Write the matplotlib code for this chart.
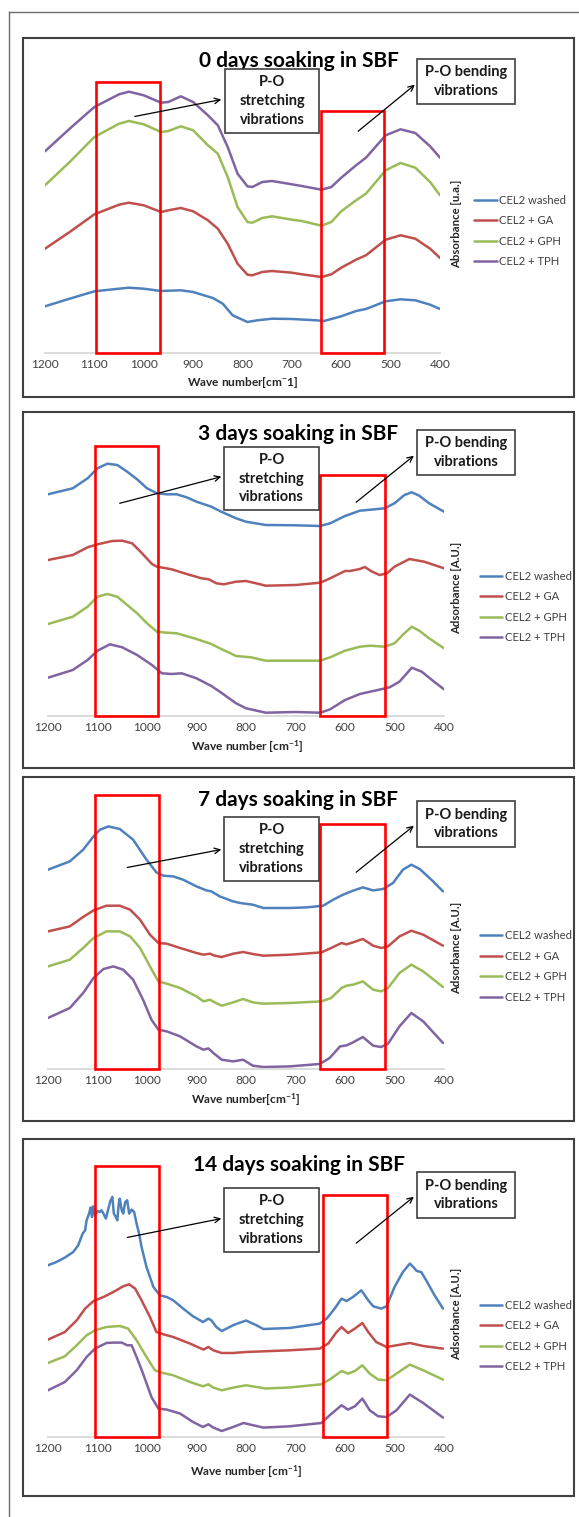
import matplotlib
matplotlib.use("Agg")
import matplotlib.pyplot as plt
from matplotlib.patches import Rectangle, FancyArrowPatch
from matplotlib.lines import Line2D

plt.rcParams['font.family'] = ['Lato', 'DejaVu Sans']
plt.rcParams['mathtext.fontset'] = 'custom'
plt.rcParams['mathtext.rm'] = 'Lato'
plt.rcParams['mathtext.bf'] = 'Lato:bold'
plt.rcParams['mathtext.default'] = 'bf'

# ---------------- data (wavenumber cm-1, absorbance a.u.) ----------------
series_labels = ["CEL2 washed", "CEL2 + GA", "CEL2 + GPH", "CEL2 + TPH"]
series_colors = ["#4F81BD", "#C0504D", "#9BBB59", "#8064A2"]
tick_values = [1200, 1100, 1000, 900, 800, 700, 600, 500, 400]

# 0 days
d0_blue_wn = [1200, 1150, 1100, 1050, 1030, 1000, 965, 950, 925, 900, 860, 840, 820, 790, 770, 740, 700, 650, 635, 600, 570, 550, 510, 480, 450, 420, 400]
d0_blue = [46.7, 54.3, 61.7, 64.3, 65.3, 64.3, 62.0, 62.3, 62.7, 61.0, 55.0, 49.3, 37.7, 31.0, 32.7, 34.3, 34.0, 32.7, 32.0, 36.7, 42.0, 44.0, 51.7, 53.7, 52.7, 48.3, 44.0]
d0_wn = [1200, 1150, 1100, 1050, 1030, 1000, 965, 950, 925, 900, 870, 850, 830, 810, 790, 780, 760, 740, 700, 680, 640, 620, 600, 570, 550, 510, 480, 450, 420, 400]
d0_red = [104.3, 121.0, 138.7, 148.3, 150.3, 147.7, 141.0, 142.7, 145.0, 141.7, 132.7, 124.3, 109.3, 89.3, 78.3, 77.7, 81.0, 82.0, 80.3, 78.7, 76.0, 78.7, 85.3, 93.3, 97.7, 113.3, 117.7, 114.3, 104.3, 95.0]
d0_green = [167.7, 191.0, 216.0, 229.3, 232.0, 228.7, 221.0, 222.0, 226.7, 222.7, 207.7, 199.3, 176.0, 146.0, 131.0, 130.3, 135.0, 136.7, 133.3, 132.0, 127.3, 131.0, 141.7, 152.7, 159.3, 182.7, 190.0, 185.3, 171.0, 157.7]
d0_purple = [201.7, 224.3, 246.0, 258.7, 261.3, 257.7, 250.3, 251.0, 256.7, 251.0, 237.7, 227.7, 206.0, 179.3, 166.7, 166.0, 171.0, 172.0, 168.7, 167.0, 163.3, 166.0, 175.3, 187.7, 195.3, 217.7, 223.7, 220.0, 206.7, 195.3]

# 3 days
d3_blue_wn = [1200, 1150, 1120, 1100, 1080, 1060, 1040, 1020, 1000, 980, 960, 940, 920, 900, 870, 850, 820, 800, 760, 700, 650, 630, 600, 570, 540, 520, 500, 480, 465, 450, 430, 400]
d3_blue = [221.7, 227.7, 237.7, 247.7, 252.3, 251.0, 244.3, 236.7, 227.7, 222.7, 221.7, 221.7, 218.7, 214.3, 209.3, 204.3, 197.7, 194.3, 191.0, 190.7, 190.0, 192.7, 200.0, 205.3, 206.7, 207.7, 212.7, 221.0, 223.7, 220.3, 212.7, 204.3]
d3_red_wn = [1200, 1150, 1120, 1100, 1070, 1050, 1030, 1010, 990, 980, 950, 920, 890, 875, 860, 845, 820, 800, 780, 760, 700, 650, 630, 600, 590, 570, 560, 545, 530, 515, 500, 470, 440, 400]
d3_red = [156.0, 161.0, 168.7, 171.7, 175.0, 175.3, 172.7, 162.7, 152.0, 149.3, 146.7, 142.0, 137.7, 136.7, 132.7, 131.7, 134.3, 135.0, 132.7, 130.3, 131.0, 133.3, 137.7, 145.0, 145.0, 147.0, 149.0, 144.3, 141.0, 142.7, 149.3, 157.0, 154.3, 147.7]
d3_green_wn = [1200, 1150, 1120, 1100, 1080, 1060, 1040, 1020, 1000, 980, 960, 940, 900, 870, 850, 820, 790, 760, 700, 650, 630, 600, 570, 550, 520, 500, 480, 465, 450, 430, 400]
d3_green = [92.0, 99.3, 109.3, 119.3, 122.0, 119.3, 111.0, 102.7, 92.7, 84.3, 83.3, 82.7, 77.0, 72.0, 67.0, 60.0, 58.7, 55.3, 55.3, 55.3, 58.7, 65.3, 69.3, 70.3, 69.3, 72.7, 82.7, 89.3, 85.3, 77.7, 67.7]
d3_purple_wn = [1200, 1150, 1120, 1100, 1075, 1050, 1020, 990, 970, 950, 930, 900, 870, 850, 820, 800, 760, 700, 650, 630, 600, 570, 540, 510, 490, 465, 445, 420, 400]
d3_purple = [38.3, 46.0, 56.0, 65.3, 71.7, 68.7, 61.0, 51.0, 42.7, 42.0, 42.7, 37.7, 30.0, 23.3, 12.7, 7.7, 3.3, 4.0, 3.3, 6.7, 16.0, 22.0, 25.3, 28.7, 34.3, 48.3, 44.3, 34.3, 26.7]

# 7 days
d7_blue_wn = [1200, 1156, 1129, 1108, 1095, 1078, 1055, 1028, 1001, 981, 967, 947, 927, 900, 880, 870, 853, 826, 812, 786, 765, 712, 678, 644, 624, 604, 584, 564, 543, 523, 503, 483, 466, 449, 422, 402]
d7_blue = [199.3, 207.6, 219.3, 232.6, 239.3, 242.6, 240.0, 229.3, 209.3, 196.6, 193.3, 192.6, 189.3, 182.6, 178.6, 177.6, 172.6, 167.6, 166.0, 164.3, 161.0, 161.0, 161.6, 163.3, 169.3, 174.3, 178.3, 181.6, 178.6, 180.0, 186.0, 199.3, 204.3, 200.0, 187.6, 177.6]
d7_wn = [1200, 1156, 1129, 1108, 1082, 1055, 1034, 1014, 994, 977, 960, 933, 900, 886, 873, 863, 849, 826, 806, 786, 765, 712, 648, 628, 607, 597, 584, 564, 543, 527, 513, 490, 466, 442, 402]
d7_red = [137.6, 142.6, 152.0, 158.6, 163.3, 163.3, 159.3, 149.3, 134.3, 126.0, 125.3, 121.0, 116.0, 114.3, 115.3, 113.3, 112.0, 115.3, 117.0, 115.0, 113.3, 114.3, 116.6, 121.0, 126.0, 124.6, 126.6, 130.0, 123.3, 121.0, 122.6, 132.6, 138.3, 134.3, 123.3]
d7_green = [102.6, 109.3, 121.0, 131.0, 137.6, 137.6, 132.6, 121.0, 102.6, 87.6, 85.3, 81.0, 72.6, 67.6, 69.3, 66.6, 63.3, 66.6, 70.0, 66.6, 65.3, 66.0, 67.6, 71.0, 81.0, 83.3, 84.3, 87.6, 79.3, 77.6, 81.0, 96.0, 104.3, 97.6, 82.0]
d7_purple_wn = [1200, 1156, 1129, 1108, 1088, 1068, 1048, 1028, 1008, 991, 977, 960, 933, 900, 886, 876, 866, 849, 826, 806, 786, 765, 712, 651, 631, 610, 597, 584, 564, 543, 527, 513, 490, 466, 442, 402]
d7_purple = [51.0, 61.0, 76.0, 91.0, 100.0, 102.6, 99.3, 89.3, 69.3, 49.3, 39.3, 37.6, 32.6, 22.6, 19.3, 20.6, 16.0, 9.3, 7.6, 9.3, 3.3, 2.0, 2.6, 5.0, 11.0, 22.6, 23.6, 26.6, 32.0, 23.3, 22.0, 25.3, 42.6, 56.0, 47.6, 26.0]

# 14 days
d14_blue_wn = [1200, 1183, 1166, 1149, 1139, 1130, 1125, 1122, 1117, 1114, 1111, 1109, 1105, 1100, 1096, 1092, 1088, 1083, 1078, 1074, 1070, 1067, 1063, 1060, 1057, 1055, 1051, 1048, 1044, 1040, 1036, 1031, 1026, 1021, 1016, 1011, 1001, 987, 974, 960, 947, 927, 907, 887, 876, 870, 860, 849, 825, 800, 780, 765, 712, 651, 637, 621, 607, 597, 584, 567, 553, 543, 527, 516, 500, 483, 469, 461, 455, 446, 436, 419, 402]
d14_blue = [171.7, 175.0, 179.4, 185.0, 191.7, 203.4, 206.7, 216.7, 223.4, 229.4, 220.0, 230.7, 221.7, 226.0, 225.0, 226.7, 223.4, 218.4, 228.4, 236.0, 240.0, 223.4, 220.0, 216.7, 233.4, 238.4, 226.7, 223.4, 235.0, 236.7, 223.4, 227.4, 225.0, 213.4, 203.4, 190.0, 170.0, 150.0, 141.7, 140.0, 136.7, 128.4, 120.7, 115.0, 118.4, 116.7, 110.0, 106.0, 112.0, 116.5, 112.0, 108.0, 109.0, 113.4, 118.4, 128.4, 138.4, 136.0, 140.0, 146.7, 136.7, 130.7, 128.4, 130.7, 150.0, 165.0, 173.4, 169.4, 166.0, 165.0, 156.7, 141.7, 128.4]
d14_red_wn = [1200, 1166, 1142, 1125, 1108, 1088, 1068, 1048, 1036, 1024, 1011, 994, 981, 967, 947, 913, 886, 876, 866, 849, 826, 800, 712, 651, 634, 617, 607, 594, 580, 565, 553, 537, 516, 496, 469, 442, 402]
d14_red = [97.4, 105.0, 116.7, 128.4, 136.0, 140.0, 145.0, 150.7, 152.7, 148.4, 136.7, 120.0, 105.0, 102.7, 100.0, 93.4, 87.4, 90.0, 86.7, 84.0, 84.0, 85.0, 86.7, 88.4, 93.4, 105.0, 110.0, 104.0, 108.4, 114.0, 105.0, 95.0, 90.0, 91.7, 94.0, 91.0, 88.4]
d14_green_wn = [1200, 1166, 1142, 1122, 1105, 1082, 1055, 1038, 1021, 1001, 984, 971, 947, 913, 887, 876, 866, 849, 826, 800, 760, 712, 648, 631, 607, 594, 580, 565, 550, 533, 516, 496, 469, 442, 402]
d14_green = [74.0, 80.7, 91.7, 101.7, 106.7, 110.0, 111.0, 108.4, 96.7, 80.0, 66.7, 64.4, 61.7, 55.0, 50.7, 52.7, 49.4, 46.7, 49.4, 51.7, 48.5, 49.5, 52.7, 57.4, 66.0, 63.4, 66.0, 71.7, 63.4, 57.4, 56.7, 63.4, 72.4, 66.7, 57.4]
d14_purple_wn = [1200, 1166, 1142, 1122, 1105, 1082, 1068, 1051, 1040, 1031, 1021, 1008, 991, 977, 960, 933, 907, 887, 876, 866, 849, 826, 805, 785, 765, 712, 648, 631, 607, 594, 580, 565, 550, 533, 516, 496, 469, 442, 402]
d14_purple = [46.7, 55.0, 66.7, 80.0, 88.4, 94.0, 94.4, 94.4, 91.7, 91.7, 80.0, 63.4, 40.0, 28.4, 27.4, 23.4, 15.0, 10.0, 12.7, 9.4, 6.0, 10.0, 14.0, 11.7, 9.4, 10.7, 14.0, 21.7, 31.7, 27.4, 30.7, 38.4, 26.7, 20.7, 20.0, 26.7, 42.4, 34.0, 19.4]

# highlighted regions (wavenumber ranges)
stretch_ranges = [(1097, 967), (1106, 977), (1106, 976), (1106, 976)]
bend_ranges = [(641, 513), (650, 520), (650, 520), (644, 516)]

titles = ["0 days soaking in SBF", "3 days soaking in SBF", "7 days soaking in SBF", "14 days soaking in SBF"]
xlabels = [r"Wave number[cm$^{-}$1]", r"Wave number [cm$^{-1}$]", r"Wave number[cm$^{-1}$]", r"Wave number [cm$^{-1}$]"]
ylabels = ["Absorbance [u.a.]", "Adsorbance [A.U.]", "Adsorbance [A.U.]", "Adsorbance [A.U.]"]

panels_data = [
    [(d0_blue_wn, d0_blue), (d0_wn, d0_red), (d0_wn, d0_green), (d0_wn, d0_purple)],
    [(d3_blue_wn, d3_blue), (d3_red_wn, d3_red), (d3_green_wn, d3_green), (d3_purple_wn, d3_purple)],
    [(d7_blue_wn, d7_blue), (d7_wn, d7_red), (d7_wn, d7_green), (d7_purple_wn, d7_purple)],
    [(d14_blue_wn, d14_blue), (d14_red_wn, d14_red), (d14_green_wn, d14_green), (d14_purple_wn, d14_purple)],
]

# ---------------- layout (pixel geometry) ----------------
W, H = 579, 1517
layout = [
    dict(box=(23, 38, 574, 397), axis_y=353, x0=45, x1=440, title=(299, 61),
         sbox=(225, 69, 319, 133), bbox=(417, 59, 515, 104),
         sarr=((132, 117), (224, 99)), barr=((356, 133), (417, 83)),
         stop=271, btop=242, xlab=(243, 382), leg=(474, 231), ylab=(457, 224)),
    dict(box=(23, 412, 574, 768), axis_y=716, x0=48, x1=444, title=(298, 434),
         sbox=(224, 447, 319, 510), bbox=(417, 430, 515, 475),
         sarr=((117, 504), (224, 476)), barr=((354, 504), (416, 454)),
         stop=270, btop=241, xlab=(247, 747), leg=(480, 607), ylab=(456.5, 588)),
    dict(box=(23, 777, 574, 1121), axis_y=1069, x0=48, x1=444, title=(298, 800),
         sbox=(224, 817, 319, 881), bbox=(417, 801, 515, 847),
         sarr=((124.5, 868), (224, 849)), barr=((354, 874), (416, 824)),
         stop=274, btop=245, xlab=(246, 1100), leg=(480, 966.5), ylab=(456.5, 948)),
    dict(box=(23, 1139, 574, 1496), axis_y=1437, x0=48, x1=444, title=(299, 1165),
         sbox=(224, 1188, 319, 1252), bbox=(417, 1172, 515, 1218),
         sarr=((124.5, 1238), (224, 1218)), barr=((354, 1245), (416, 1195)),
         stop=271, btop=242, xlab=(246, 1472), leg=(480, 1336), ylab=(456.5, 1314)),
]

def fx(px):
    return px / W

def fy(py):
    return 1 - py / H

fig = plt.figure(figsize=(W / 100, H / 100), dpi=100)
fig.patch.set_facecolor("white")

# outer frame lines
fig.add_artist(Line2D([fx(9), fx(9)], [fy(12), fy(1517)], transform=fig.transFigure, color="#6b6b6b", lw=1.0))
fig.add_artist(Line2D([fx(9), fx(579)], [fy(12), fy(12)], transform=fig.transFigure, color="#6b6b6b", lw=1.0))

YTOP = 290
for i, L in enumerate(layout):
    bx0, by0, bx1, by1 = L["box"]
    fig.add_artist(Rectangle((fx(bx0), fy(by1)), fx(bx1) - fx(bx0), fy(by0) - fy(by1),
                             transform=fig.transFigure, fill=False, edgecolor="#404040", lw=1.5))
    ax = fig.add_axes([fx(L["x0"]), fy(L["axis_y"]), fx(L["x1"]) - fx(L["x0"]), YTOP / H])
    ax.patch.set_visible(False)
    handles = []
    for (wn, vals), lab, col in zip(panels_data[i], series_labels, series_colors):
        h, = ax.plot(wn, vals, color=col, lw=1.8, label=lab, solid_joinstyle="round", solid_capstyle="round")
        handles.append(h)
    ax.set_xlim(1200, 400)
    ax.set_ylim(0, YTOP)
    for s in ["top", "left", "right"]:
        ax.spines[s].set_visible(False)
    ax.spines["bottom"].set_color("#d9d9d9")
    ax.spines["bottom"].set_linewidth(1.3)
    ax.set_yticks([])
    ax.set_xticks(tick_values)
    ax.set_xticklabels([str(t) for t in tick_values], fontsize=8.6, color="#404040")
    ax.tick_params(axis="x", length=0, pad=4.5)
    # highlighted ranges
    s0, s1 = stretch_ranges[i]
    ax.add_patch(Rectangle((s0, 0), s1 - s0, L["stop"], fill=False, edgecolor="#FF0000", lw=1.9, clip_on=False, zorder=5))
    b0, b1 = bend_ranges[i]
    ax.add_patch(Rectangle((b0, 0), b1 - b0, L["btop"], fill=False, edgecolor="#FF0000", lw=1.9, clip_on=False, zorder=5))
    # title
    fig.text(fx(L["title"][0]), fy(L["title"][1]), titles[i], ha="center", va="center",
             fontsize=15, fontweight="bold", color="black")
    # annotation boxes
    for key, txt in (("sbox", "P-O\nstretching\nvibrations"), ("bbox", "P-O bending\nvibrations")):
        x0, y0, x1, y1 = L[key]
        fig.add_artist(Rectangle((fx(x0), fy(y1)), fx(x1) - fx(x0), fy(y0) - fy(y1),
                                 transform=fig.transFigure, facecolor="white", edgecolor="#404040", lw=1.2, zorder=6))
        fig.text(fx((x0 + x1) / 2), fy((y0 + y1) / 2), txt, ha="center", va="center",
                 fontsize=10.5, fontweight="bold", linespacing=1.45, zorder=7, color="#1a1a1a")
    for key in ("sarr", "barr"):
        (ax0, ay0), (ax1, ay1) = L[key]
        fig.add_artist(FancyArrowPatch((fx(ax0), fy(ay0)), (fx(ax1), fy(ay1)), transform=fig.transFigure,
                                       arrowstyle="->", mutation_scale=10, color="black", lw=0.9, zorder=8))
    # x label
    fig.text(fx(L["xlab"][0]), fy(L["xlab"][1]), xlabels[i], ha="center", va="center",
             fontsize=8.6, fontweight="bold", color="#262626")
    # y label
    fig.text(fx(L["ylab"][0]), fy(L["ylab"][1]), ylabels[i], ha="center", va="center", rotation=90,
             fontsize=8.2, fontweight="bold", color="#262626")
    # legend
    ax.legend(handles=handles, loc="center left", bbox_to_anchor=(fx(L["leg"][0]), fy(L["leg"][1])),
              bbox_transform=fig.transFigure, frameon=False, fontsize=8.1, handlelength=2.0,
              handletextpad=0.25, labelspacing=0.85, borderpad=0, borderaxespad=0, labelcolor="#404040")

fig.savefig("out.png", dpi=100, facecolor="white")
